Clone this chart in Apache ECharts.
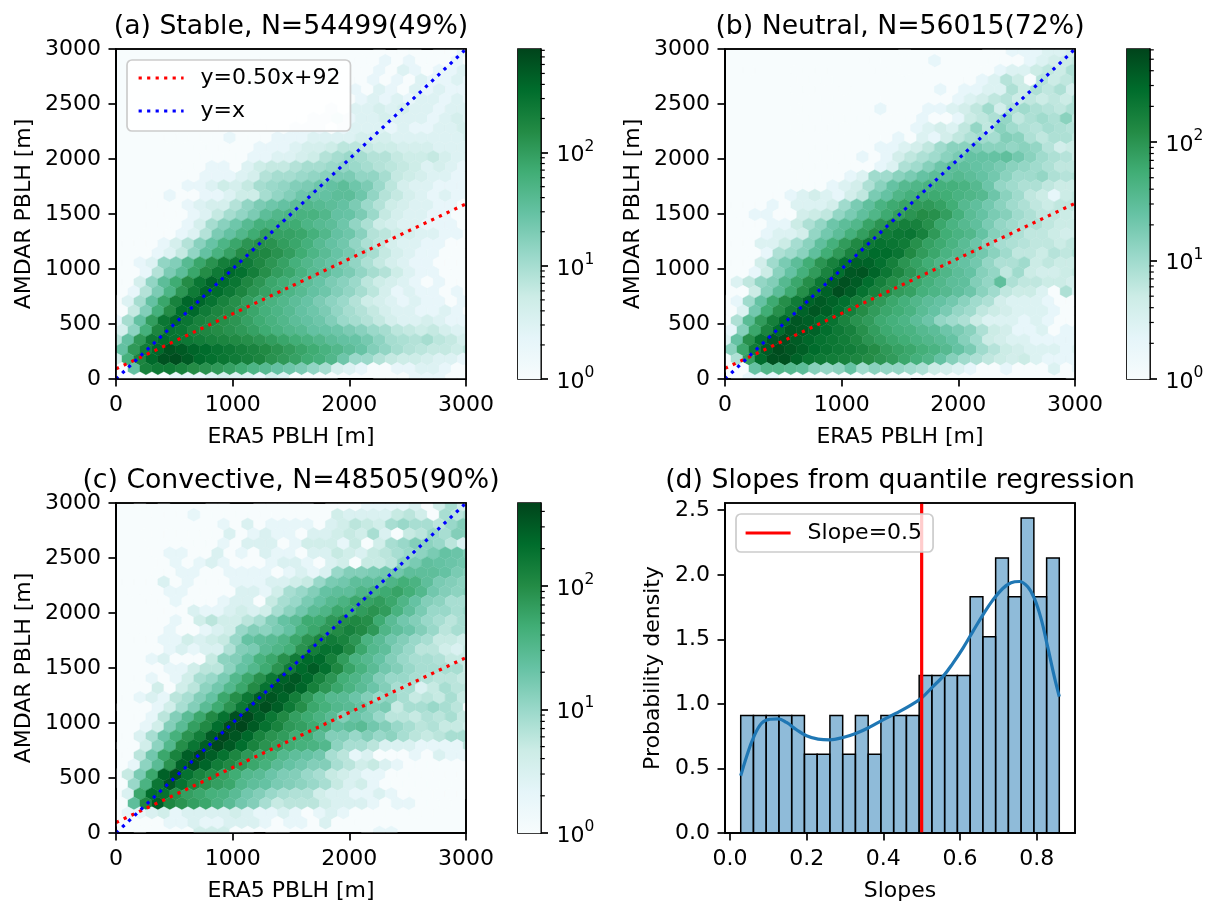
<!DOCTYPE html>
<html><head><meta charset="utf-8">
<style>html,body{margin:0;padding:0;background:#fff}#c{width:1206px;height:901px}</style>
<script src="https://cdn.jsdelivr.net/npm/echarts@6/dist/echarts.min.js"></script>
</head><body><div id="c"></div>
<script>
// hexbin counts, top row first; each row is read left to right
const rowsA = [
[0,0,0,0,0,0,0,0,0,0,0,0,0,0,0,0,0,0,0,0,0,0,1,0,1,1,0,1,1,2],
[0,0,0,0,0,0,0,0,0,0,0,1,0,0,0,0,0,0,0,0,1,0,2,1,2,1,1,1,2,1],
[0,0,0,0,0,0,0,0,0,0,0,0,0,0,0,0,0,0,0,1,0,1,2,1,3,2,1,2,2,3],
[0,0,0,0,0,0,0,0,0,0,0,0,0,0,0,0,0,0,0,1,1,2,1,2,1,3,2,2,3,2],
[0,0,0,0,0,0,0,0,0,0,0,0,0,0,0,0,0,0,1,1,2,1,3,2,1,3,2,3,2,2],
[0,0,0,0,0,0,0,0,0,0,0,0,0,0,0,0,0,1,1,1,2,3,2,3,2,3,3,2,3,2],
[0,0,0,0,0,0,0,0,0,0,0,0,0,0,0,0,1,1,2,1,3,3,4,3,4,3,3,2,3,3],
[0,0,0,0,0,0,0,0,0,0,0,0,0,0,1,1,2,2,3,2,3,3,4,3,3,3,2,3,4,3],
[0,0,0,0,0,0,0,0,0,1,1,1,1,1,1,2,2,2,1,2,3,3,3,2,3,2,2,3,3,4],
[0,0,0,0,1,1,0,1,1,2,1,1,1,2,2,2,3,3,3,3,4,4,4,3,3,3,3,3,3,4],
[0,0,0,0,0,0,0,1,1,1,1,1,2,2,2,3,4,4,5,7,7,6,5,5,4,4,4,3,3,3],
[0,0,0,0,0,0,0,1,1,1,1,2,2,3,3,4,5,8,10,12,10,8,8,6,5,5,6,4,3,3],
[0,0,0,0,0,0,1,1,2,2,1,3,5,6,6,8,10,10,12,14,12,10,8,7,6,5,3,4,3,2],
[0,0,0,0,0,0,1,2,2,2,3,4,8,10,10,12,14,16,20,20,14,14,10,6,5,4,3,3,2,2],
[0,0,0,0,0,1,2,2,3,5,4,6,10,12,14,18,20,25,30,35,25,20,12,7,4,3,3,2,2,2],
[0,0,0,1,2,1,1,2,2,3,5,5,10,14,18,25,30,30,35,35,25,14,8,6,4,3,2,3,2,2],
[0,0,0,1,0,1,2,3,4,4,8,14,20,25,30,35,45,40,35,30,20,12,8,5,4,3,3,2,2,1],
[0,0,0,0,1,1,2,3,6,10,14,20,35,45,50,55,55,45,30,28,20,12,6,4,3,3,2,2,1,1],
[0,0,0,1,1,1,2,4,10,16,25,40,60,60,70,70,50,40,35,25,14,9,5,4,3,3,2,2,2,1],
[0,0,1,1,1,2,3,8,20,30,45,70,100,90,90,80,60,45,30,25,16,8,7,5,4,3,3,2,2,1],
[0,1,1,1,2,4,8,16,28,50,80,120,140,130,100,80,60,40,30,24,14,9,7,4,3,3,2,2,1,1],
[0,1,1,2,3,6,14,30,55,90,150,180,170,130,100,70,50,38,28,22,14,10,6,4,3,2,2,1,1,1],
[0,1,2,3,14,18,40,80,130,220,260,240,170,120,90,60,45,35,28,20,14,9,6,4,3,2,2,1,1,1],
[0,1,2,8,20,35,80,150,250,380,320,220,140,100,80,55,40,35,25,20,14,10,8,5,3,2,2,1,1,1],
[0,1,4,14,35,70,150,280,420,350,280,170,120,80,65,50,35,28,20,16,12,7,5,4,3,2,1,2,1,1],
[0,2,8,20,50,120,250,400,350,260,180,120,90,70,50,40,30,25,18,14,10,7,4,2,3,2,2,1,2,1],
[1,3,10,30,80,200,400,400,300,200,140,100,70,55,45,35,28,20,15,12,8,5,4,3,2,3,2,2,1,2],
[1,6,18,60,150,350,380,240,180,150,110,80,60,50,40,30,25,20,14,10,8,6,4,3,3,2,2,3,2,1],
[2,10,30,100,280,380,280,200,170,140,120,90,70,55,45,35,30,25,18,12,10,8,6,4,3,3,4,3,2,2],
[4,15,60,180,300,280,200,170,150,130,110,90,70,55,45,40,30,28,25,20,16,12,10,7,6,5,6,4,3,3],
[8,30,110,260,350,300,260,230,200,180,160,140,120,100,80,65,55,45,35,30,28,22,15,10,9,8,10,7,6,4],
[30,110,230,380,600,520,420,360,300,260,220,190,160,130,105,85,70,55,45,35,28,18,14,10,8,7,6,6,5,7],
[5,60,180,380,620,680,520,380,320,280,240,210,180,130,110,90,70,60,45,25,12,12,8,6,5,5,4,3,3,2],
[1,30,200,250,250,200,150,130,110,90,70,50,40,30,25,20,14,10,4,3,2,1,1,2,2,3,3,2,1,1],
[1,1,1,1,1,2,2,2,3,4,3,3,2,4,3,1,1,1,1,0,0,0,1,1,1,2,2,2,1,1]
];
const rowsB = [
[0,0,0,0,0,0,0,0,0,0,0,0,0,0,0,1,0,0,0,0,0,0,1,1,2,2,2,3,3,4],
[0,0,0,0,0,0,0,0,0,0,0,0,1,0,0,0,0,2,0,0,0,0,1,1,1,2,3,4,5,6],
[0,0,1,0,0,0,1,0,1,0,0,0,0,1,0,1,0,1,0,0,0,1,1,2,3,3,5,6,5,8],
[0,0,0,0,0,0,1,0,1,0,0,0,0,0,1,0,0,0,0,1,1,2,3,7,5,1,7,5,6,8],
[0,0,0,0,0,0,1,1,0,0,1,0,0,0,0,0,0,0,2,1,2,2,3,3,8,5,8,6,8,4],
[0,0,0,0,0,0,0,0,1,0,0,0,0,1,0,0,0,1,1,2,3,4,6,7,5,6,5,6,5,8],
[0,0,0,0,0,0,1,0,0,0,0,1,1,2,1,0,1,2,2,3,4,6,10,4,8,10,8,7,6,8],
[0,0,0,0,0,0,0,1,1,1,0,1,0,1,1,1,2,1,1,2,5,6,8,12,6,8,10,8,14,6],
[0,0,0,0,0,0,1,0,1,1,1,0,0,0,0,1,2,3,4,3,6,12,6,14,10,8,7,9,8,7],
[0,0,0,0,0,0,0,0,0,0,0,0,1,1,2,1,3,2,4,6,8,10,9,16,14,8,6,8,8,6],
[0,0,0,0,0,0,0,0,1,1,0,1,1,2,2,3,4,6,10,14,14,18,14,14,12,14,12,7,4,5],
[0,0,0,0,0,0,0,1,1,0,1,2,1,2,4,6,8,10,14,18,25,25,25,28,20,14,10,8,7,5],
[0,0,0,0,0,0,1,0,1,1,1,1,1,2,3,8,10,15,22,30,28,25,22,18,14,12,10,8,6,6],
[0,0,0,0,0,0,1,1,1,1,2,3,10,10,14,18,25,30,30,35,30,25,20,14,10,10,12,8,7,8],
[0,0,0,0,0,1,1,1,1,2,3,4,8,14,25,35,40,45,50,50,45,35,22,12,10,8,8,6,5,5],
[0,0,0,0,1,2,3,4,3,2,4,6,18,25,40,50,60,60,55,45,40,35,22,14,10,6,5,2,5,6],
[0,1,1,1,2,1,3,3,3,4,10,18,28,45,60,70,85,90,75,55,35,28,20,14,10,8,6,5,6,6],
[0,1,2,2,1,1,4,5,6,12,18,28,40,60,80,100,120,110,80,50,32,25,18,15,10,8,6,6,5,4],
[0,0,1,1,2,2,5,8,12,22,30,38,70,100,140,170,160,110,65,45,35,28,18,12,10,8,8,6,5,5],
[0,0,1,2,3,3,4,12,20,30,50,80,120,180,210,220,160,90,55,45,38,25,15,12,8,6,6,5,4,4],
[0,1,1,3,3,5,9,14,28,50,85,130,200,240,220,190,110,75,60,45,32,22,14,9,8,7,6,6,5,6],
[0,1,1,2,8,10,14,28,55,90,150,220,280,270,220,130,85,65,45,35,28,20,14,10,6,6,5,7,6,8],
[0,1,1,4,10,18,30,55,100,160,250,340,330,250,170,100,75,55,40,30,25,20,12,8,8,10,5,6,5,5],
[0,1,2,5,14,25,50,85,150,260,420,450,320,210,140,95,70,55,40,30,25,15,12,6,10,5,4,4,5,6],
[0,3,6,12,16,35,65,115,210,360,480,380,260,170,115,85,65,50,38,30,28,16,12,28,8,6,6,5,5,4],
[0,1,5,15,30,60,115,220,340,500,380,240,160,115,85,75,50,42,35,28,22,14,10,6,5,5,3,1,8,3],
[1,2,10,25,60,115,190,330,400,330,260,170,115,90,65,50,38,30,25,20,14,10,8,4,3,3,3,2,1,1],
[1,3,20,55,110,190,330,430,360,260,170,120,85,65,55,45,32,25,18,12,10,6,5,4,3,3,3,2,1,1],
[1,8,32,85,170,280,420,360,280,230,150,105,85,60,50,42,30,22,12,10,8,5,3,3,3,2,3,2,1,1],
[2,15,65,150,280,420,400,330,260,200,160,110,80,60,50,45,35,30,22,18,14,8,5,4,2,2,3,1,2,2],
[3,25,110,240,420,480,380,300,240,210,180,140,100,80,65,55,45,38,32,25,15,10,5,4,3,3,2,2,2,2],
[14,65,190,380,520,430,360,280,230,200,180,150,120,90,75,65,52,45,35,25,18,10,7,5,4,3,3,3,2,3],
[1,8,80,280,480,480,330,230,200,180,160,140,120,100,85,65,50,40,25,15,10,8,6,5,4,5,3,2,2,2],
[1,1,25,40,40,35,30,15,12,14,25,10,14,12,12,10,8,5,4,3,2,1,1,2,1,1,1,3,1,2],
[0,1,2,2,2,1,1,1,1,1,1,1,1,1,1,1,0,0,0,0,0,0,0,0,0,0,0,0,0,1]
];
const rowsC = [
[0,0,1,0,1,0,0,0,1,1,0,0,1,1,1,1,1,0,1,1,1,2,2,2,2,3,1,4,8,4],
[0,0,0,1,0,1,2,0,1,1,1,1,1,1,1,1,1,1,4,3,3,3,3,5,6,4,1,8,6,8],
[0,0,0,0,0,0,0,0,0,2,1,3,1,2,2,2,2,1,3,4,6,5,4,8,10,8,8,6,10,14],
[0,0,1,1,1,1,1,1,1,3,1,2,3,2,2,1,3,3,4,5,4,8,3,1,5,6,10,8,14,14],
[0,0,0,0,0,1,1,1,1,2,1,3,3,3,1,2,4,4,4,2,5,1,4,8,10,14,12,10,6,3],
[0,0,1,1,2,2,1,1,3,1,2,1,3,2,2,1,3,3,5,4,3,5,6,8,10,12,16,22,20,16],
[0,0,0,0,1,2,1,2,3,2,1,1,1,2,3,3,2,1,3,4,1,5,5,6,12,16,24,22,20,18],
[0,0,0,1,1,2,2,1,1,2,2,2,2,1,2,3,2,3,10,14,14,16,18,18,25,25,25,22,16,14],
[0,1,1,1,3,1,2,1,1,1,2,2,2,3,3,4,5,10,16,18,25,25,25,35,45,38,25,16,14,12],
[0,1,1,1,2,2,1,1,1,1,3,3,2,4,8,10,14,22,25,25,35,40,50,60,45,32,18,14,12,14],
[0,0,0,1,1,2,1,1,1,2,3,3,1,5,8,10,16,22,30,38,55,60,70,55,35,22,14,12,8,8],
[0,0,0,1,1,1,3,2,2,3,4,3,4,8,12,18,28,35,55,50,70,85,70,40,25,16,10,10,8,10],
[0,0,0,0,1,2,1,4,6,4,4,6,8,14,22,28,50,50,75,95,110,95,50,28,18,14,10,8,6,8],
[0,1,1,1,2,1,1,2,3,4,10,14,12,16,22,40,55,75,100,130,105,75,35,25,20,14,10,6,8,8],
[0,0,1,1,2,2,4,3,4,5,10,22,25,28,35,55,85,120,150,125,80,38,28,18,14,10,8,5,5,4],
[0,0,0,1,2,3,2,3,3,7,14,16,28,35,45,85,140,190,180,105,55,32,25,14,10,6,6,4,3,5],
[0,0,0,2,3,1,1,1,5,12,14,22,40,55,90,150,230,230,135,70,38,30,22,14,10,8,8,7,5,5],
[0,0,1,1,2,2,4,6,6,12,22,32,50,85,150,230,300,200,110,60,40,28,18,14,10,8,8,8,8,5],
[0,0,1,2,1,2,4,8,10,16,32,55,90,165,270,330,240,130,80,45,35,25,14,10,10,8,7,6,6,5],
[0,1,1,4,1,4,6,12,18,32,55,100,185,300,330,250,135,80,55,38,28,20,14,8,8,3,5,8,6,6],
[0,1,2,3,2,6,8,14,22,55,95,170,290,340,260,140,75,45,30,28,20,14,10,12,8,5,6,5,8,5],
[1,1,1,2,4,8,14,28,50,85,170,290,390,290,160,95,55,42,32,28,22,14,16,5,8,8,10,8,6,1],
[0,0,1,2,6,14,28,55,105,190,370,430,290,170,105,65,50,38,28,14,20,16,10,6,6,5,7,6,8,5],
[0,1,2,4,14,28,65,105,210,390,460,310,190,125,75,65,50,38,22,25,28,18,14,10,8,6,7,5,5,4],
[0,1,3,8,20,42,85,145,310,460,340,240,125,85,70,48,45,28,14,14,10,14,10,12,8,6,5,6,8,8],
[1,0,4,12,32,95,175,290,420,320,210,125,85,65,48,42,38,32,12,8,8,6,3,3,3,2,2,2,2,6],
[0,1,6,18,55,125,290,410,290,190,115,75,55,48,32,25,22,18,8,6,2,3,1,1,1,2,1,3,2,2],
[0,2,12,28,85,270,390,250,145,105,75,55,42,28,22,18,14,14,8,6,4,5,3,2,1,1,1,1,1,1],
[1,5,16,55,270,390,190,125,95,65,48,32,28,20,15,14,10,8,5,4,3,2,2,1,1,1,1,0,1,1],
[1,10,38,170,340,190,115,85,65,55,32,25,22,16,14,12,10,8,5,3,4,2,1,1,1,0,1,1,1,1],
[0,3,55,210,190,95,65,55,42,38,28,18,14,10,8,7,7,4,3,3,2,2,3,2,1,1,0,1,1,1],
[1,25,115,290,115,85,65,55,38,28,18,14,8,5,6,6,6,4,3,3,3,2,1,2,2,1,1,1,0,0],
[1,2,2,3,4,2,3,3,3,3,4,3,2,2,3,2,1,2,3,2,1,0,1,0,0,1,1,0,0,0],
[1,1,1,1,2,2,3,2,2,3,3,3,2,1,2,2,1,3,1,1,0,0,0,0,0,0,0,0,0,0],
[0,0,1,0,0,0,0,4,4,4,1,1,0,1,1,0,0,0,0,0,0,1,2,2,0,0,0,0,0,0]
];
const titles = ['(a) Stable, N=54499(49%)','(b) Neutral, N=56015(72%)','(c) Convective, N=48505(90%)','(d) Slopes from quantile regression'];
const cbMax = [822,610,468];
const redEnds = [[[0,92],[3000,1592]],[[0,97],[3000,1597]],[[0,95],[3000,1595]]];
const blueEnds = [[0,0],[3000,3000]];
const xTicksD = [0,0.2,0.4,0.6,0.8];
const yTicksD = [0,0.5,1,1.5,2,2.5];
const histEdges = [0.028,0.0612,0.0945,0.1277,0.161,0.1942,0.2275,0.2607,0.294,0.3272,0.3605,0.3937,0.427,0.4602,0.4935,0.5267,0.56,0.5932,0.6265,0.6597,0.693,0.7262,0.7595,0.7927,0.826,0.859];
const histVals = [0.91,0.91,0.91,0.91,0.91,0.61,0.61,0.91,0.61,0.91,0.61,0.91,0.91,0.91,1.22,1.22,1.22,1.22,1.83,1.52,2.13,1.83,2.44,1.83,2.13];
const kde = [[0.028,0.443],[0.0434,0.593],[0.0607,0.735],[0.0824,0.85],[0.1041,0.881],[0.1258,0.884],[0.1475,0.856],[0.1735,0.80],[0.1995,0.753],[0.2299,0.727],[0.2603,0.722],[0.295,0.74],[0.3297,0.773],[0.3644,0.82],[0.3991,0.876],[0.4338,0.928],[0.4685,0.985],[0.4989,1.044],[0.5293,1.134],[0.5553,1.211],[0.5813,1.314],[0.6074,1.43],[0.6334,1.56],[0.6594,1.688],[0.6855,1.804],[0.7115,1.894],[0.7332,1.938],[0.7549,1.948],[0.7766,1.907],[0.794,1.817],[0.8113,1.662],[0.8286,1.443],[0.846,1.211],[0.859,1.057]];
const slopeLine = [[0.5,0],[0.5,2.56]];
const minorCounts = [2,3,4,5,6,7,8,9,20,30,40,50,60,70,80,90,200,300,400,500,600,700,800];
const cbTicks = [0,1,2];
const hexDx = 102.6, hexDy = 87.5, hexY0 = 6;
const BuGn = ['#f7fcfd','#e5f5f9','#ccece6','#99d8c9','#66c2a4','#41ae76','#238b45','#006d2c','#00441b'];

const FONT='DejaVu Sans', FS=22, LW=1.7, LINE=3.2;
const chart = echarts.init(document.getElementById('c'),null,{renderer:'canvas'});
const boxes = [{l:116,t:49},{l:725,t:49},{l:116,t:503}];
const PW=350, PH=330;
const grid=[],xAxis=[],yAxis=[],series=[],visualMap=[],title=[],legend=[];
const axStyle = {
  axisLine:{show:true,onZero:false,lineStyle:{color:'#000',width:LW}},
  axisTick:{show:true,length:7.5,lineStyle:{color:'#000',width:LW}},
  splitLine:{show:false},
  axisLabel:{color:'#000',fontFamily:FONT,fontSize:FS,margin:15,formatter:v=>String(v)},
  nameTextStyle:{color:'#000',fontFamily:FONT,fontSize:FS}
};
function cells(rows){
  const out=[];
  const n=rows.length;
  rows.forEach((r,i)=>{
    const k=n-1-i;
    r.forEach((v,c)=>{
      if(v>0) out.push([c*hexDx+(k%2?hexDx/2:0), hexY0+k*hexDy, v, Math.log10(v)]);
    });
  });
  return out;
}
function hexItem(p,api){
  const x=api.value(0),y=api.value(1);
  const a=hexDx/2,b=hexDy*2/3,c=hexDy/3;
  const pts=[[x,y+b],[x+a,y+c],[x+a,y-c],[x,y-b],[x-a,y-c],[x-a,y+c]].map(q=>api.coord(q));
  const col=api.visual('color');
  return {type:'polygon',shape:{points:pts},style:{fill:col,stroke:col,lineWidth:0.4}};
}
[rowsA,rowsB,rowsC].forEach((rows,i)=>{
  const b=boxes[i];
  const gi=grid.length;
  grid.push({left:b.l,top:b.t,width:PW,height:PH,show:true,outerBoundsMode:'none',backgroundColor:'#f7fcfd',borderColor:'#000',borderWidth:LW});
  xAxis.push({gridIndex:gi,type:'value',min:0,max:3000,interval:1000,name:'ERA5 PBLH [m]',nameLocation:'middle',nameGap:47,...axStyle});
  yAxis.push({gridIndex:gi,type:'value',min:0,max:3000,interval:500,name:'AMDAR PBLH [m]',nameLocation:'middle',nameGap:81,...axStyle});
  const si=series.length;
  series.push({type:'custom',xAxisIndex:gi,yAxisIndex:gi,clip:true,silent:true,renderItem:hexItem,data:cells(rows),encode:{x:0,y:1},z:1,animation:false});
  visualMap.push({show:false,type:'continuous',seriesIndex:si,dimension:3,min:0,max:Math.log10(cbMax[i]),inRange:{color:BuGn}});
  const redName=i===0?'y=0.50x+92':'red fit '+i, blueName=i===0?'y=x':'one to one '+i;
  series.push({type:'line',name:redName,xAxisIndex:gi,yAxisIndex:gi,data:redEnds[i],showSymbol:false,symbol:'none',lineStyle:{color:'#ff0000',width:LINE,type:[3.2,5.3]},itemStyle:{color:'#ff0000'},z:3,animation:false,silent:true});
  series.push({type:'line',name:blueName,xAxisIndex:gi,yAxisIndex:gi,data:blueEnds,showSymbol:false,symbol:'none',lineStyle:{color:'#0000ff',width:LINE,type:[3.2,5.3]},itemStyle:{color:'#0000ff'},z:3,animation:false,silent:true});
  // colourbar
  const ci=grid.length;
  const cbL=b.l+402;
  const top=Math.log10(cbMax[i]);
  grid.push({left:cbL,top:b.t,width:22.5,height:PH,show:true,outerBoundsMode:'none',borderColor:'#000',borderWidth:LW,backgroundColor:'transparent'});
  xAxis.push({gridIndex:ci,type:'value',min:0,max:1,show:false});
  yAxis.push({gridIndex:ci,type:'value',min:0,max:top,position:'right',
    axisLine:{show:true,onZero:false,lineStyle:{color:'#000',width:LW}},
    axisTick:{show:true,length:7.5,customValues:cbTicks,lineStyle:{color:'#000',width:LW}},
    splitLine:{show:false},
    axisLabel:{color:'#000',fontFamily:FONT,fontSize:FS,margin:16,customValues:cbTicks,
      formatter:v=>'{b|10}{s|'+Math.round(v)+'}',
      rich:{b:{fontFamily:FONT,fontSize:FS,color:'#000',lineHeight:28,verticalAlign:'bottom'},
            s:{fontFamily:FONT,fontSize:15.5,color:'#000',lineHeight:16,verticalAlign:'top'}}}
  });
  series.push({type:'custom',xAxisIndex:ci,yAxisIndex:ci,clip:false,silent:true,animation:false,z:1,data:[[0,0,1,top]],encode:{x:[0,2],y:[1,3]},
    renderItem:(p,api)=>{
      const a=api.coord([0,0]),c=api.coord([1,top]);
      return {type:'rect',shape:{x:a[0],y:c[1],width:c[0]-a[0],height:a[1]-c[1]},
        style:{fill:new echarts.graphic.LinearGradient(0,1,0,0,BuGn.map((col,j)=>({offset:j/8,color:col})))}};
    }});
  series.push({type:'custom',xAxisIndex:ci,yAxisIndex:ci,clip:false,silent:true,animation:false,z:3,
    data:minorCounts.filter(v=>v<=cbMax[i]).map(v=>[1,Math.log10(v)]),encode:{x:0,y:1},
    renderItem:(p,api)=>{
      const q=api.coord([1,api.value(1)]);
      return {type:'line',shape:{x1:q[0],y1:q[1],x2:q[0]+4.3,y2:q[1]},style:{stroke:'#000',lineWidth:1.2}};
    }});
});
// panel d
const di=grid.length;
grid.push({left:725,top:503,width:350,height:PH,show:true,outerBoundsMode:'none',backgroundColor:'#fff',borderColor:'#000',borderWidth:LW});
xAxis.push({gridIndex:di,type:'value',min:-0.013,max:0.9,name:'Slopes',nameLocation:'middle',nameGap:47,...axStyle,
  axisTick:{...axStyle.axisTick,customValues:xTicksD},
  axisLabel:{...axStyle.axisLabel,customValues:xTicksD,formatter:v=>v.toFixed(1)}});
yAxis.push({gridIndex:di,type:'value',min:0,max:2.556,name:'Probability density',nameLocation:'middle',nameGap:61,...axStyle,
  axisTick:{...axStyle.axisTick,customValues:yTicksD},
  axisLabel:{...axStyle.axisLabel,customValues:yTicksD,formatter:v=>v.toFixed(1)}});
series.push({type:'custom',xAxisIndex:di,yAxisIndex:di,silent:true,animation:false,z:1,clip:true,
  data:histVals.map((v,i)=>[histEdges[i],histEdges[i+1],v]),encode:{x:[0,1],y:2},
  renderItem:(p,api)=>{
    const a=api.coord([api.value(0),0]),c=api.coord([api.value(1),api.value(2)]);
    return {type:'rect',shape:{x:a[0],y:c[1],width:c[0]-a[0],height:a[1]-c[1]},
      style:{fill:'rgba(31,119,180,0.5)',stroke:'#000',lineWidth:1.5}};
  }});
series.push({type:'line',name:'kde',xAxisIndex:di,yAxisIndex:di,data:kde,smooth:0.4,showSymbol:false,symbol:'none',lineStyle:{color:'#1f77b4',width:LINE},z:3,animation:false,silent:true});
series.push({type:'line',name:'Slope=0.5',xAxisIndex:di,yAxisIndex:di,data:slopeLine,showSymbol:false,symbol:'none',lineStyle:{color:'#ff0000',width:LINE},itemStyle:{color:'#ff0000'},z:4,animation:false,silent:true});

const titleCenter=[291,900,291,900];
const titleTop=[14,14,468,468];
titles.forEach((t,i)=>title.push({text:t,left:titleCenter[i],top:titleTop[i],padding:0,textAlign:'center',textStyle:{color:'#000',fontFamily:FONT,fontSize:26.7,fontWeight:'normal'}}));
const legBase={orient:'vertical',backgroundColor:'rgba(255,255,255,0.8)',borderColor:'#cccccc',borderWidth:1.7,borderRadius:5,
  textStyle:{color:'#000',fontFamily:FONT,fontSize:FS,padding:[0,0,0,12]},itemWidth:45,itemHeight:10,selectedMode:false,z:12,
  itemStyle:{opacity:0,borderWidth:0},lineStyle:{width:LINE}};
legend.push({...legBase,data:['y=0.50x+92','y=x'],left:127,top:60,padding:[7,10,9,10],itemGap:11});
legend.push({...legBase,data:['Slope=0.5'],left:736,top:514,padding:[8,11,8,8]});
const frames=[...boxes,{l:725,t:503}].map(b=>({type:'rect',z:10,silent:true,shape:{x:b.l,y:b.t,width:PW,height:PH},style:{fill:'none',stroke:'#000',lineWidth:LW}}));
chart.setOption({animation:false,backgroundColor:'#fff',title,legend,grid,xAxis,yAxis,series,visualMap,graphic:{elements:frames}});
</script></body></html>
